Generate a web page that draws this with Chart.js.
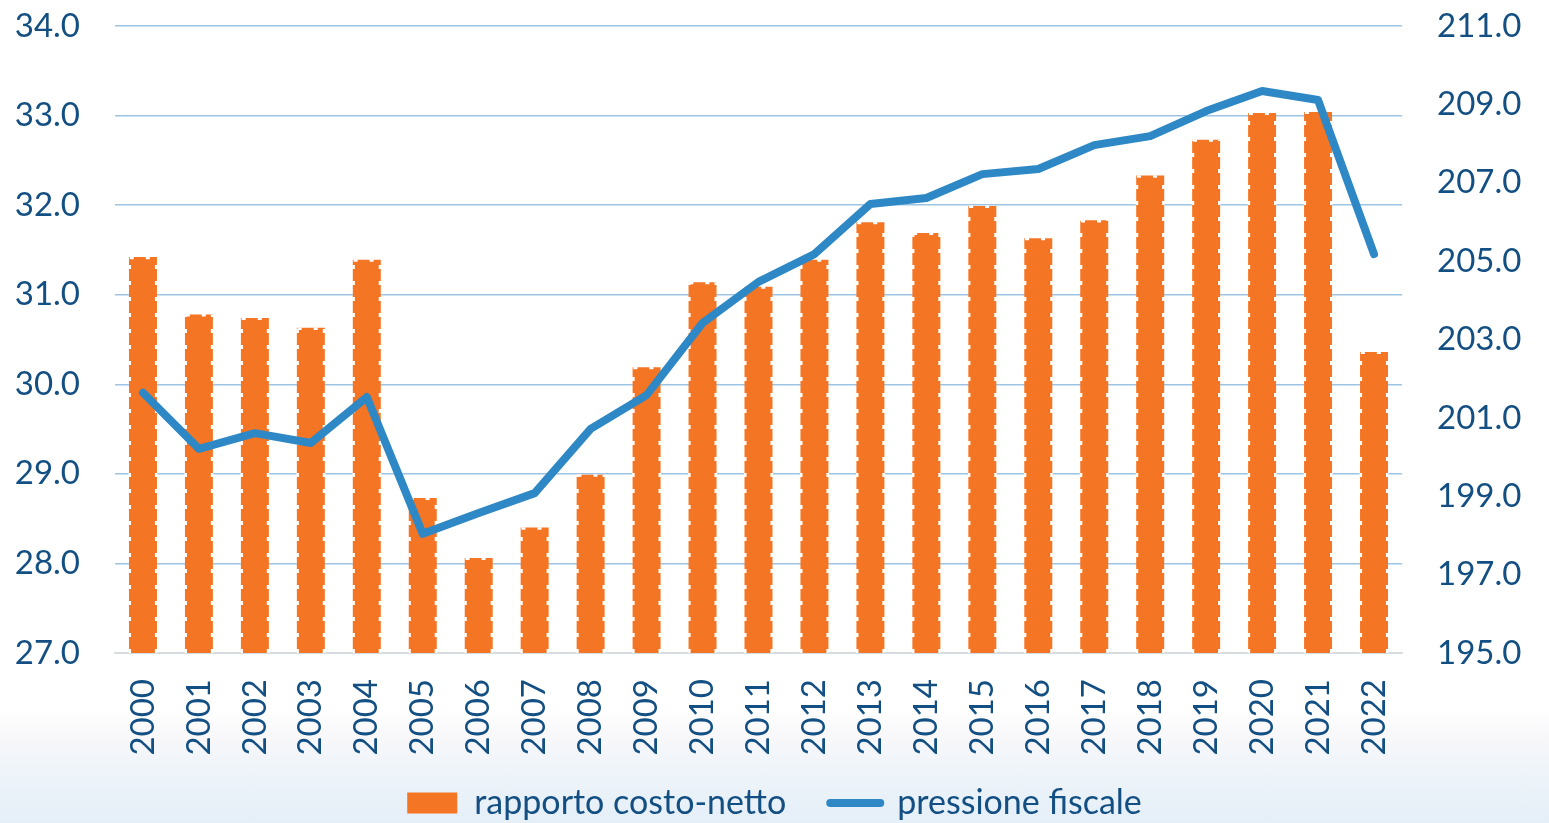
<!DOCTYPE html>
<html>
<head>
<meta charset="utf-8">
<script src="https://cdn.jsdelivr.net/npm/chart.js@4/dist/chart.umd.min.js"></script>
<style>
  html, body { margin: 0; padding: 0; }
  body {
    width: 1549px; height: 823px; overflow: hidden;
    background: linear-gradient(to bottom, #ffffff 0px, #ffffff 708px, #f7f7fa 740px, #eef4f9 770px, #e5eff8 823px);
  }
  #wrap { position: relative; width: 1549px; height: 823px; }
</style>
</head>
<body>
<div id="wrap"><canvas id="chart"></canvas></div>
<script>
const years = ["2000", "2001", "2002", "2003", "2004", "2005", "2006", "2007", "2008", "2009", "2010", "2011",
  "2012", "2013", "2014", "2015", "2016", "2017", "2018", "2019", "2020", "2021", "2022"];

// rapporto costo-netto (asse sinistro)
const costoNetto = [31.42, 30.78, 30.74, 30.63, 31.39, 28.73, 28.06, 28.40, 28.99, 30.19, 31.14, 31.09,
  31.39, 31.81, 31.69, 31.99, 31.63, 31.83, 32.33, 32.73, 33.03, 33.04, 30.36];

// pressione fiscale (asse destro)
const pressioneFiscale = [201.64, 200.21, 200.61, 200.36, 201.53, 198.04, 198.57, 199.08, 200.72, 201.58, 203.42, 204.47,
  205.18, 206.46, 206.61, 207.22, 207.35, 207.96, 208.19, 208.83, 209.34, 209.11, 205.18];

const textColor = "#134f82";
const orange = "#f47524";
const blue = "#2e88c5";
const font = "Lato";

// white dashed edges on the bars
const dashedBars = {
  id: "dashedBars",
  afterDatasetDraw(chart, args) {
    if (args.index !== 0) return;
    const ctx = chart.ctx;
    const area = chart.chartArea;
    ctx.save();
    ctx.beginPath();
    ctx.rect(area.left, area.top, area.right - area.left, area.bottom - area.top);
    ctx.clip();
    ctx.strokeStyle = "#ffffff";
    ctx.lineWidth = 2.5;
    ctx.setLineDash([4, 12]);
    args.meta.data.forEach((bar) => {
      const { x, y, base, width } = bar.getProps(["x", "y", "base", "width"], true);
      const l = x - width / 2 + 0.8, r = x + width / 2 - 0.8;
      const b = Math.min(base, area.bottom);
      ctx.beginPath();
      ctx.moveTo(l, b); ctx.lineTo(l, y);
      ctx.moveTo(r, b); ctx.lineTo(r, y);
      ctx.moveTo(l, y + 0.8); ctx.lineTo(r, y + 0.8);
      ctx.stroke();
    });
    ctx.restore();
  },
};

// let the rotated year labels run past the x axis box instead of being clipped
const unclipX = {
  id: "unclipX",
  afterLayout(chart) {
    chart.scales.x.bottom = chart.height;
  },
};

new Chart(document.getElementById("chart"), {
  data: {
    labels: years,
    datasets: [
      {
        type: "bar",
        label: "rapporto costo-netto",
        data: costoNetto,
        backgroundColor: orange,
        borderWidth: 0,
        yAxisID: "y",
        order: 1,
        barPercentage: 0.5,
        categoryPercentage: 1,
      },
      {
        type: "line",
        label: "pressione fiscale",
        data: pressioneFiscale,
        borderColor: blue,
        backgroundColor: blue,
        borderWidth: 8,
        borderCapStyle: "round",
        borderJoinStyle: "round",
        pointRadius: 0,
        tension: 0,
        yAxisID: "y1",
        order: 0,
      },
    ],
  },
  options: {
    responsive: true,
    maintainAspectRatio: false,
    animation: false,
    layout: { padding: { top: 26, bottom: -7 } },
    plugins: {
      tooltip: { enabled: false },
      legend: {
        position: "bottom",
        labels: {
          color: textColor,
          font: { family: font, size: 34 },
          usePointStyle: true,
          pointStyleWidth: 50,
          boxHeight: 21,
          padding: 44,
          sort: (a, b) => a.datasetIndex - b.datasetIndex,
          generateLabels(chart) {
            return chart.data.datasets.map((ds, i) => ({
              text: ds.label,
              datasetIndex: i,
              fillStyle: ds.type === "bar" ? orange : blue,
              strokeStyle: ds.type === "bar" ? orange : blue,
              lineWidth: ds.type === "bar" ? 0 : 8,
              lineCap: "round",
              pointStyle: ds.type === "bar" ? "rect" : "line",
              fontColor: textColor,
            }));
          },
        },
      },
    },
    scales: {
      x: {
        grid: { display: false, drawTicks: false },
        border: { display: true, color: "#d9d9d9", width: 1.5 },
        ticks: {
          color: textColor,
          font: { family: font, size: 33 },
          minRotation: 90,
          maxRotation: 90,
          padding: 26,
          autoSkip: false,
        },
        afterFit(scale) { scale.height = 89; },
      },
      y: {
        position: "left",
        min: 27,
        max: 34,
        grid: { color: "#9dc4e4", lineWidth: 1.5, drawTicks: true, tickLength: 33, tickColor: "rgba(0,0,0,0)" },
        border: { display: false },
        ticks: {
          stepSize: 1,
          color: textColor,
          font: { family: font, size: 33 },
          padding: 2,
          callback: (v) => v.toFixed(1),
        },
        afterFit(scale) { scale.width = 115; },
      },
      y1: {
        position: "right",
        min: 195,
        max: 211,
        grid: { drawOnChartArea: false, drawTicks: true, tickLength: 33, tickColor: "rgba(0,0,0,0)" },
        border: { display: false },
        ticks: {
          stepSize: 2,
          color: textColor,
          font: { family: font, size: 33 },
          padding: 2,
          callback: (v) => v.toFixed(1),
        },
        afterFit(scale) { scale.width = 147; },
      },
    },
  },
  plugins: [dashedBars, unclipX],
});
</script>
</body>
</html>
